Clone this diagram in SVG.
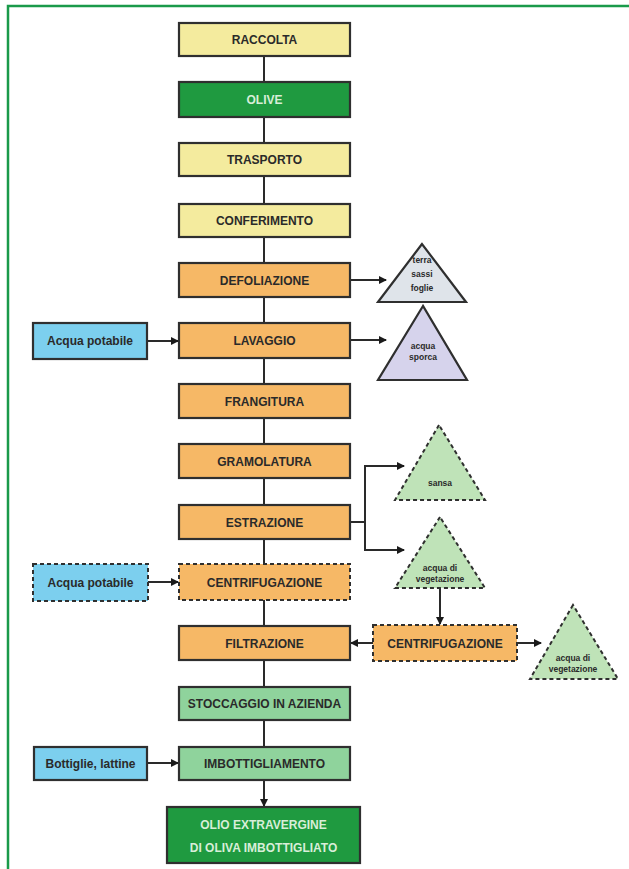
<svg xmlns="http://www.w3.org/2000/svg" width="629" height="869" viewBox="0 0 629 869">
<defs>
<marker id="ah" markerWidth="8" markerHeight="8" refX="7" refY="4" orient="auto" markerUnits="userSpaceOnUse">
<path d="M0,0 L8,4 L0,8 z" fill="#1a1a1a"/>
</marker>
<style>
.c{stroke:#2a2a2a;stroke-width:2;fill:none}
.b{stroke:#2f2f2f;stroke-width:2.2}
.d{stroke:#2f2f2f;stroke-width:2;stroke-dasharray:4 3}
.y{fill:#f4eb9e}
.g{fill:#1f9a40}
.o{fill:#f6b866}
.lg{fill:#8fd39c}
.bl{fill:#7ccfee}
.t{font-family:"Liberation Sans",Arial,sans-serif;font-weight:bold;font-size:12px;fill:#2a2a2a;text-anchor:middle}
.tw{fill:#d8eed8}
.s{font-family:"Liberation Sans",Arial,sans-serif;font-weight:bold;font-size:8.5px;fill:#2a2a2a;text-anchor:middle}
</style>
</defs>
<rect width="629" height="869" fill="#ffffff"/>
<path d="M8,869 V6 H629" fill="none" stroke="#1a9a4a" stroke-width="2.5"/>

<g id="connectors">
<path class="c" d="M264,56 V802"/>
<path class="c" d="M350,280 H386" marker-end="url(#ah)"/>
<path class="c" d="M350,340 H386" marker-end="url(#ah)"/>
<path class="c" d="M147,341 H178" marker-end="url(#ah)"/>
<path class="c" d="M350,522 H365 V466 H404" marker-end="url(#ah)"/>
<path class="c" d="M365,522 V550 H404" marker-end="url(#ah)"/>
<path class="c" d="M148,582 H178" marker-end="url(#ah)"/>
<path class="c" d="M440,588 V624" marker-end="url(#ah)"/>
<path class="c" d="M373,643 H351" marker-end="url(#ah)"/>
<path class="c" d="M517,643 H541" marker-end="url(#ah)"/>
<path class="c" d="M147,763 H178" marker-end="url(#ah)"/>
<path class="c" d="M264,780 V806" marker-end="url(#ah)"/>
</g>

<g id="raccolta"><rect class="b y" x="179" y="23" width="171" height="33"/><text class="t" x="264.5" y="44">RACCOLTA</text></g>
<g id="olive"><rect class="b g" x="179" y="82" width="171" height="35"/><text class="t tw" x="264.5" y="104">OLIVE</text></g>
<g id="trasporto"><rect class="b y" x="179" y="143" width="171" height="33"/><text class="t" x="264.5" y="164">TRASPORTO</text></g>
<g id="conferimento"><rect class="b y" x="179" y="204" width="171" height="33"/><text class="t" x="264.5" y="225">CONFERIMENTO</text></g>
<g id="defoliazione"><rect class="b o" x="179" y="263" width="171" height="34"/><text class="t" x="264.5" y="285">DEFOLIAZIONE</text></g>
<g id="lavaggio"><rect class="b o" x="179" y="323" width="171" height="35"/><text class="t" x="264.5" y="345">LAVAGGIO</text></g>
<g id="frangitura"><rect class="b o" x="179" y="384" width="171" height="34"/><text class="t" x="264.5" y="406">FRANGITURA</text></g>
<g id="gramolatura"><rect class="b o" x="179" y="444" width="171" height="34"/><text class="t" x="264.5" y="466">GRAMOLATURA</text></g>
<g id="estrazione"><rect class="b o" x="179" y="505" width="171" height="34"/><text class="t" x="264.5" y="527">ESTRAZIONE</text></g>
<g id="centrifugazione1"><rect class="d o" x="179" y="564" width="171" height="36"/><text class="t" x="264.5" y="587">CENTRIFUGAZIONE</text></g>
<g id="filtrazione"><rect class="b o" x="179" y="626" width="171" height="34"/><text class="t" x="264.5" y="648">FILTRAZIONE</text></g>
<g id="stoccaggio"><rect class="b lg" x="179" y="687" width="171" height="33"/><text class="t" x="264.5" y="708">STOCCAGGIO IN AZIENDA</text></g>
<g id="imbottigliamento"><rect class="b lg" x="179" y="747" width="171" height="33"/><text class="t" x="264.5" y="768">IMBOTTIGLIAMENTO</text></g>
<g id="olio"><rect class="b g" x="167" y="807" width="193" height="56"/><text class="t tw" x="263.5" y="829">OLIO EXTRAVERGINE</text><text class="t tw" x="263.5" y="852">DI OLIVA IMBOTTIGLIATO</text></g>

<g id="acqua1"><rect class="b bl" x="33" y="323" width="114" height="36"/><text class="t" x="90" y="345">Acqua potabile</text></g>
<g id="acqua2"><rect class="d bl" x="33" y="564" width="115" height="37"/><text class="t" x="90.5" y="587">Acqua potabile</text></g>
<g id="bottiglie"><rect class="b bl" x="34" y="747" width="113" height="33"/><text class="t" x="90.5" y="768">Bottiglie, lattine</text></g>

<g id="centrifugazione2"><rect class="d o" x="373" y="625" width="144" height="36"/><text class="t" x="445" y="648">CENTRIFUGAZIONE</text></g>

<g id="terra"><polygon class="b" fill="#dfe4ea" points="422,244 378,302 466,302"/><text class="s" x="422" y="263">terra</text><text class="s" x="422" y="277">sassi</text><text class="s" x="422" y="291">foglie</text></g>
<g id="sporca"><polygon class="b" fill="#d6d3ec" points="423,306 378,380 467,380"/><text class="s" x="423" y="349">acqua</text><text class="s" x="423" y="360">sporca</text></g>
<g id="sansa"><polygon class="d" fill="#bfe3b8" points="439,425 395,500 485,500"/><text class="s" x="440" y="486">sansa</text></g>
<g id="vegetazione1"><polygon class="d" fill="#bfe3b8" points="440,517 395,588 485,588"/><text class="s" x="440" y="571">acqua di</text><text class="s" x="440" y="582">vegetazione</text></g>
<g id="vegetazione2"><polygon class="d" fill="#bfe3b8" points="573,605 530,679 618,679"/><text class="s" x="573" y="661">acqua di</text><text class="s" x="573" y="672">vegetazione</text></g>
</svg>
